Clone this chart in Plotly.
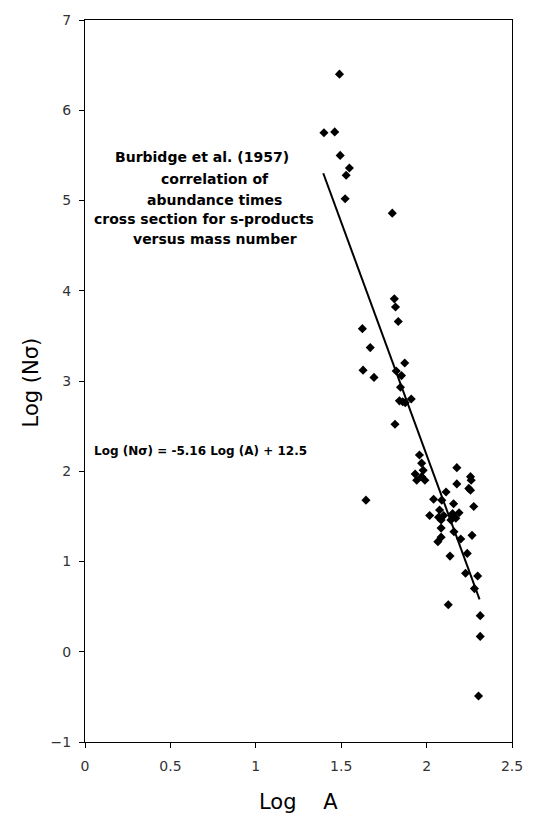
import plotly.graph_objects as go

# Data
log_a = [1.490, 1.399, 1.462, 1.494, 1.548, 1.529, 1.523, 1.799,
         1.811, 1.818, 1.834, 1.624, 1.670, 1.872, 1.628, 1.692, 1.822, 1.853,
         1.847, 1.841, 1.860, 1.875, 1.910, 1.815, 1.645,
         1.958, 1.971, 1.980, 1.933, 1.942, 1.990, 1.971,
         2.177, 2.257, 2.261, 2.177, 2.247, 2.257, 2.114, 2.041, 2.089, 2.158,
         2.276, 2.076, 2.018, 2.070, 2.085, 2.100, 2.152, 2.190, 2.171, 2.142,
         2.085, 2.160, 2.085, 2.066, 2.266, 2.200, 2.137, 2.238,
         2.228, 2.299, 2.280, 2.127, 2.314, 2.314, 2.304]
log_n_sigma = [6.40, 5.75, 5.76, 5.50, 5.36, 5.28, 5.02, 4.86,
               3.91, 3.82, 3.66, 3.58, 3.37, 3.20, 3.12, 3.04, 3.11, 3.06,
               2.93, 2.78, 2.77, 2.76, 2.80, 2.52, 1.68,
               2.18, 2.09, 2.01, 1.97, 1.90, 1.90, 1.94,
               2.04, 1.94, 1.90, 1.86, 1.81, 1.79, 1.77, 1.69, 1.68, 1.64,
               1.61, 1.57, 1.51, 1.49, 1.46, 1.51, 1.53, 1.54, 1.48, 1.46,
               1.37, 1.33, 1.27, 1.22, 1.29, 1.25, 1.06, 1.09,
               0.87, 0.84, 0.70, 0.52, 0.40, 0.17, -0.49]

fit_slope = -5.16
fit_intercept = 12.5
fit_x = [1.395, 2.31]
fit_y = [fit_slope * x + fit_intercept for x in fit_x]

x_ticks = [0, 0.5, 1, 1.5, 2, 2.5]
x_tick_text = ["0", "0.5", "1", "1.5", "2", "2.5"]
y_ticks = [-1, 0, 1, 2, 3, 4, 5, 6, 7]

W, H = 535, 817
ml, mr, mt, mb = 85, 12, 18, 75

fig = go.Figure()
fig.add_trace(go.Scatter(x=fit_x, y=fit_y, mode="lines",
                         line=dict(color="black", width=2), showlegend=False))
fig.add_trace(go.Scatter(x=log_a, y=log_n_sigma, mode="markers",
                         marker=dict(symbol="diamond", size=7, color="black",
                                     line=dict(width=0)),
                         showlegend=False))

tickfont = dict(family="DejaVu Sans", size=14, color="#333")
fig.update_xaxes(range=[0, 2.5], tickvals=x_ticks, ticktext=x_tick_text,
                 ticks="outside", ticklen=5, tickcolor="black",
                 showline=True, linecolor="black", linewidth=1, mirror=True,
                 showgrid=False, zeroline=False, tickfont=tickfont,
                 ticklabelstandoff=6)
fig.update_yaxes(range=[-1, 7], tickvals=y_ticks,
                 ticks="outside", ticklen=5, tickcolor="black",
                 showline=True, linecolor="black", linewidth=1, mirror=True,
                 showgrid=False, zeroline=False, tickfont=tickfont,
                 ticklabelstandoff=5)

def px_to_paper_x(px):
    return (px - ml) / (W - ml - mr)

def px_to_paper_y(py):
    return 1 - (py - mt) / (H - mt - mb)

bold14 = dict(family="DejaVu Sans", size=14, color="black", weight="bold")
annos = []
lines = [("Burbidge et al.\u00a0(1957)", 205, 155),
         ("correlation of", 218, 177),
         ("abundance times", 218, 198),
         ("cross section for s-products", 207, 218),
         ("versus mass number", 218, 238)]
for text, cx, cy in lines:
    annos.append(dict(text=text, x=px_to_paper_x(cx), y=px_to_paper_y(cy),
                      xref="paper", yref="paper", showarrow=False,
                      xanchor="center", yanchor="middle", font=bold14))
annos.append(dict(text="Log (Nσ) = -5.16 Log (A) + 12.5",
                  x=px_to_paper_x(92), y=px_to_paper_y(450),
                  xref="paper", yref="paper", showarrow=False,
                  xanchor="left", yanchor="middle",
                  font=dict(family="DejaVu Sans", size=12, color="black",
                            weight="bold")))
annos.append(dict(text="Log\u00a0\u00a0\u00a0\u00a0A", x=px_to_paper_x(304), y=px_to_paper_y(802),
                  xref="paper", yref="paper", showarrow=False,
                  xanchor="center", yanchor="middle",
                  font=dict(family="DejaVu Sans", size=21, color="black")))
annos.append(dict(text="Log\u00a0(Nσ)", x=px_to_paper_x(30), y=px_to_paper_y(381),
                  xref="paper", yref="paper", showarrow=False, textangle=-90,
                  xanchor="center", yanchor="middle",
                  font=dict(family="DejaVu Sans", size=21, color="black")))

fig.update_layout(width=W, height=H, margin=dict(l=ml, r=mr, t=mt, b=mb),
                  paper_bgcolor="white", plot_bgcolor="white",
                  annotations=annos, showlegend=False)

fig.write_html("out.html")
